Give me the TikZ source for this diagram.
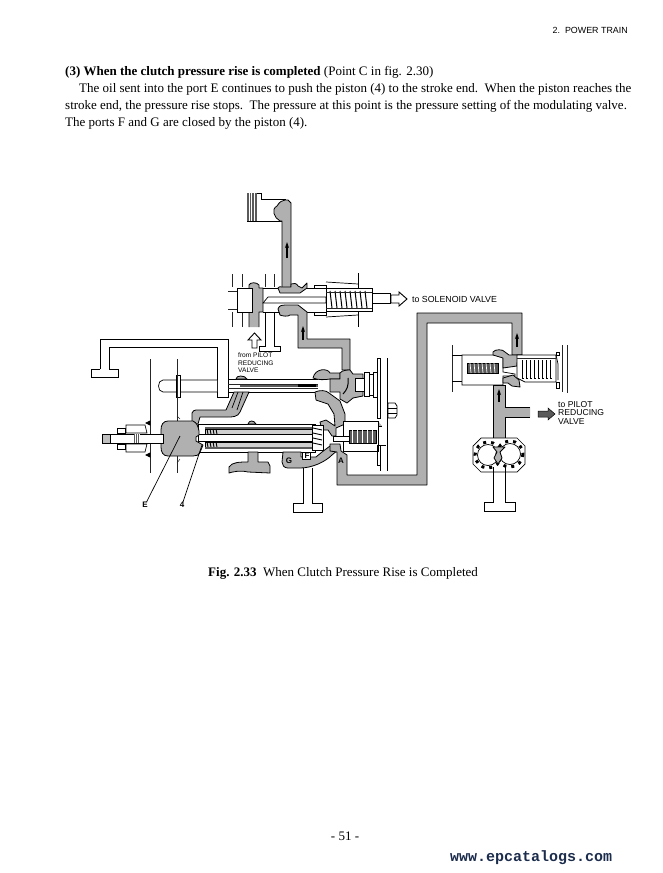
\documentclass[tikz,border=0pt]{standalone}
\usepackage{fontspec}
\setmainfont{Liberation Serif}
\setsansfont{Liberation Sans}
\setmonofont{Liberation Mono}
\usetikzlibrary{arrows.meta}
\definecolor{oilColor}{HTML}{B0B0B0}
\definecolor{darkOil}{HTML}{5A5A5A}
\definecolor{urlColor}{HTML}{1C2C4C}
\tikzset{
	oil/.style={draw=black, fill=oilColor, line width=0.8pt, line join=round},
	dark/.style={draw=black, fill=darkOil, line width=0.5pt},
	wall/.style={draw=black, line width=0.7pt},
	thin wall/.style={draw=black!85, line width=0.5pt},
	body text/.style={anchor=base west, inner sep=0, font=\fontsize{13}{15}\selectfont},
	small label/.style={anchor=base west, inner sep=0, font=\sffamily\fontsize{8.8}{9}\selectfont},
	mark label/.style={inner sep=0, font=\sffamily\bfseries\fontsize{8}{9}\selectfont},
	flow/.style={-{Stealth[length=6pt,width=4pt]}, line width=1.3pt},
	hollow arrow/.style={draw=black, fill=white, line width=0.9pt},
}
\begin{document}
\begin{tikzpicture}[x=1pt,y=-1pt]
	\useasboundingbox (0,0) rectangle (662,873);
	% page text
	\node[anchor=base east, inner sep=0, font=\sffamily\fontsize{8.9}{10}\selectfont] (header) at (628,33) {2.\ \ POWER TRAIN};
	\node[body text] (head) at (65,75) {\textbf{(3) When the clutch pressure rise is completed} (Point C in fig. 2.30)};
	\node[body text] (line1) at (79,92) {The oil sent into the port E continues to push the piston (4) to the stroke end.\ \ When the piston reaches the};
	\node[body text] (line2) at (65,109) {stroke end, the pressure rise stops.\ \ The pressure at this point is the pressure setting of the modulating valve.};
	\node[body text] (line3) at (65,126) {The ports F and G are closed by the piston (4).};
	\node[body text] (caption) at (208,576) {\textbf{Fig. 2.33}\ \ When Clutch Pressure Rise is Completed};
	\node[anchor=base, inner sep=0, font=\fontsize{13}{15}\selectfont] (page) at (345,840) {- 51 -};
	\node[anchor=base west, inner sep=0, text=urlColor, font=\ttfamily\bfseries\fontsize{15}{16}\selectfont] (url) at (450,861) {www.epcatalogs.com};

	% clutch and upper passage
	\draw[wall, fill=white] (247,193) -- (261,193) -- (261,199) -- (285,199) -- (285,221) -- (247,221) -- cycle;
	\fill[darkOil] (247,193) rectangle (257,221);
	\foreach \hx in {249,251.5,254}{\draw[white, line width=0.5pt] (\hx,193) -- (\hx,221);}
	\draw[oil] (282,287) -- (282,221) -- (280,221) .. controls (274,218) and (271,209) .. (277,206) .. controls (280,201) and (282,201) .. (285,200) -- (288,200) -- (291,203) -- (291,287);
	\draw[flow] (287,258) -- (287,242);

	% spool valve
	\foreach \lx in {232,242,265,274}{\draw[thin wall] (\lx,274) -- (\lx,287);}
	\draw[thin wall] (232,312) -- (232,327);
	\draw[thin wall] (242,312) -- (242,327);
	\draw[thin wall] (228,291) -- (237,291);
	\draw[thin wall] (228,309) -- (237,309);
	\draw[oil] (249,327) -- (249,285) .. controls (250,282) and (257,282) .. (259,285) -- (259,288) -- (263,288) -- (263,312) -- (259,312) -- (259,327);
	\draw[wall, fill=white] (237,288) rectangle (252,312);
	\draw[wall] (263,288) -- (326,288);
	\draw[wall] (263,312) -- (326,312);
	\draw[wall, fill=white] (263,303) -- (268,297) -- (326,297) -- (326,303) -- cycle;
	\draw[oil] (278,288) .. controls (278,286) and (281,287) .. (282,287) -- (291,287) -- (291,284) .. controls (293,283) and (297,283) .. (298,286) -- (302,288) -- (307,283) -- (307,288) -- (300,293) -- (280,293) -- cycle;
	\draw[oil] (278,309) .. controls (279,305) and (283,305) .. (285,305) -- (298,305) -- (307,312) -- (307,339) -- (350,339) -- (350,370) -- (342,370) -- (342,348) -- (298,348) -- (298,315) -- (290,315) .. controls (288,317) and (282,316) .. (280,315) -- cycle;
	\draw[flow] (303,340) -- (303,326);
	% spring chamber
	\draw[wall] (314,288) rectangle (326,285);
	\draw[wall] (314,312) rectangle (326,315);
	\draw[wall] (326,282) -- (358,284) (326,317) -- (358,315);
	\draw[wall] (358,273) -- (358,327);
	\draw[wall, fill=white] (326,288) rectangle (372,311);
	\foreach \cx in {330,335,...,367}{\draw[wall, line width=1pt] (\cx,291) -- (\cx+2,308);}
	\draw[thin wall] (326,292) -- (372,292) (326,308) -- (372,308);
	\draw[wall, fill=white] (372,293) rectangle (390,303);
	\draw[hollow arrow] (391,295) -- (399,295) -- (399,292) -- (407,299) -- (399,306) -- (399,303) -- (391,303) -- cycle;
	\node[small label] (solenoid) at (412,302) {to SOLENOID VALVE};
	% drain under spool and pilot inlet
	\draw[wall] (265,312) -- (265,346) -- (259,346) -- (259,351) -- (280,351) -- (280,346) -- (274,346) -- (274,312);
	\draw[hollow arrow] (252,348) -- (252,340) -- (248,340) -- (254.5,333) -- (261,340) -- (257,340) -- (257,348) -- cycle;
	\node[small label, align=left, anchor=north west, font=\sffamily\fontsize{6.6}{7.2}\selectfont] (pilotin) at (238,353) {from PILOT\\REDUCING\\VALVE};

	% drain tube at upper left
	\draw[wall] (100,369) -- (100,339) -- (228,339) -- (228,397) -- (217,397) -- (217,347) -- (109,347) -- (109,369);
	\draw[wall] (91,369) -- (100,369) (109,369) -- (118,369);
	\draw[wall] (91,369) -- (91,377) -- (118,377) -- (118,369);
	% pilot plunger
	\draw[wall, fill=white] (217,380) -- (163,380) .. controls (157,380) and (157,392) .. (163,392) -- (217,392);
	\draw[wall, fill=white] (176,375) rectangle (180,397);
	\draw[thin wall] (150,359) -- (150,473) (177,359) -- (177,473);
	\draw[wall] (228,379) -- (318,379) (228,392) -- (318,392);
	\draw[thin wall] (228,384) -- (318,384) (228,388) -- (318,388);
	\fill[darkOil] (240,385) rectangle (318,387);
	\fill[black] (298,384) rectangle (316,387);
	\draw[oil] (236,379) .. controls (236,375) and (245,375) .. (247,379) -- cycle;
	\draw[oil] (313,378) .. controls (315,368) and (328,368) .. (330,373) -- (340,373) -- (340,379) -- (330,379) .. controls (325,380) and (318,380) .. (313,378) -- cycle;

	% passage from chamber E
	\draw[oil] (192,424) -- (192,413) .. controls (193,411) and (194,410) .. (196,410) -- (226,410) -- (234,392) -- (249,392) -- (240,412) .. controls (238,417) and (232,417) .. (228,417) -- (200,417) -- (198,424) -- cycle;
	\draw[wall] (238,392) -- (232,408) (243,392) -- (237,410);

	% main piston body
	\draw[wall, fill=white] (198,424) -- (315,424) -- (315,452) -- (198,452) -- cycle;
	\draw[wall, fill=oilColor!60] (205,429) rectangle (315,434);
	\draw[wall, fill=oilColor!60] (205,442) rectangle (315,447);
	\fill[darkOil] (205,427) rectangle (315,429);
	\fill[darkOil] (205,447) rectangle (315,449);
	\draw[wall, line width=1.2pt] (198,434.5) -- (315,434.5) (198,441.5) -- (315,441.5);
	\foreach \tx in {207,210,...,216}{
		\draw[wall, line width=0.9pt] (\tx,429) -- (\tx+1,434);
		\draw[wall, line width=0.9pt] (\tx,442) -- (\tx+1,447);
	}
	\draw[white, dashed, line width=0.8pt] (220,426) -- (315,426) (220,450) -- (315,450);
	\draw[oil] (248,424) .. controls (249,420) and (254,420) .. (256,424) -- cycle;
	% chamber E and left rod
	\draw[thin wall] (177,416) -- (180,419) (177,463) -- (180,459);
	\draw[oil] (168,421) -- (193,421) .. controls (197,423) and (198,426) .. (199,431) -- (199,435) -- (196,437) -- (196,441) -- (203,445) -- (201,450) .. controls (199,456) and (196,456) .. (193,456) -- (168,456) .. controls (163,456) and (161,452) .. (161,447) -- (161,430) .. controls (161,425) and (163,421) .. (168,421) -- cycle;
	\draw[wall, fill=white] (110,434) rectangle (163,443);
	\draw[wall, fill=black!25] (102,434) rectangle (110,443);
	\draw[wall, fill=white] (117,428) rectangle (125,433) (117,444) rectangle (125,449);
	\draw[wall, fill=white] (126,425) -- (145,425) -- (147,433) -- (126,433) -- cycle;
	\draw[wall, fill=white] (126,444) -- (147,444) -- (145,452) -- (126,452) -- cycle;
	\fill[darkOil] (134,434) rectangle (140,443);
	\foreach \nx in {135,137,139}{\draw[white, line width=0.5pt] (\nx,434) -- (\nx,443);}
	\draw[wall, fill=black] (146,423) -- (150,421) -- (150,425) -- cycle;
	\draw[wall, fill=black] (146,455) -- (150,453) -- (150,457) -- cycle;
	% mushroom land under piston
	\draw[oil] (248,452) -- (258,452) -- (258,462) -- (268,462) -- (270,466) -- (270,473) -- (248,472) .. controls (240,470) and (232,472) .. (229,473) -- (229,467) .. controls (232,462) and (240,462) .. (248,462) -- cycle;

	% port G, F, A and the right end
	\draw[oil] (283,452) -- (301,452) -- (301,457) -- (316,457) -- (322,452) -- (330,446) -- (336,445) -- (338,450) -- (332,455) .. controls (325,462) and (312,468) .. (300,468) -- (288,468) .. controls (284,468) and (282,465) .. (282,462) -- cycle;
	\draw[wall, fill=white] (302,452) rectangle (310,459);
	\draw[wall] (303,468) -- (303,503) -- (293,503) -- (293,512) -- (322,512) -- (322,503) -- (312,503) -- (312,468);
	\node[mark label] (portG) at (289,461) {G};
	\node[mark label] (portF) at (307,455.5) {F};
	% pipe from A round to the relief valve
	\draw[oil] (330,451) -- (330,444) -- (340,444) -- (341,451) -- (347,455) -- (347,475) -- (417,475) -- (417,313) -- (522,313) -- (522,355) -- (512,355) -- (512,323) -- (427,323) -- (427,485) -- (337,485) -- (337,452) -- cycle;
	\node[mark label] (portA) at (341,461) {A};
	% small valve at the right of the piston
	\draw[oil] (315,392) .. controls (320,390) and (326,390) .. (329,393) -- (340,401) -- (345,414) -- (345,424) -- (336,428) -- (336,436) -- (332,436) -- (328,430) -- (322,430) -- (320,422) -- (326,420) -- (335,426) -- (334,414) -- (328,404) -- (316,400) -- cycle;
	\draw[wall, fill=white] (343,421) rectangle (378,451);
	\draw[dark] (349,430) rectangle (376,443);
	\foreach \px in {352,357,...,374}{\draw[white, line width=0.8pt] (\px,430) -- (\px,443);}
	\draw[wall, fill=white] (333,436) rectangle (349,441);
	\draw[oil] (378,421) -- (378,426) -- (382,426);
	\draw[wall, fill=white] (312,425) rectangle (323,450);
	\foreach \vy in {428,433,...,446}{\draw[wall, line width=0.9pt] (313,\vy) -- (322,\vy+2);}
	% chamber at the end of the plunger
	\draw[oil] (340,379) -- (340,373) .. controls (342,370) and (348,370) .. (350,370) -- (353,374) -- (363,374) -- (363,396) -- (353,398) -- (347,403) -- (340,399) -- (340,392) -- (330,392) -- (330,379) -- cycle;
	\draw[wall, fill=white] (355,378) rectangle (364,391);
	\draw[wall, line width=1pt] (348,378) .. controls (349,385) and (347,390) .. (343,394);
	\draw[wall] (364,372) rectangle (369,396);
	\draw[wall] (369,374) rectangle (373,395);
	\draw[wall] (373,372) rectangle (377,397);
	\draw[wall] (377,358) -- (380,358) -- (380,418) -- (377,418) -- cycle;
	\draw[wall] (380,445) -- (380,471) (377,445) -- (377,465) -- (380,465);
	\draw[wall] (377,445) -- (386,445);
	\draw[wall] (387,358) -- (387,471);
	\draw[wall, fill=white] (388,403) -- (395,403) -- (397,406) -- (397,415) -- (395,418) -- (388,418) -- cycle;
	\draw[wall] (388,408) -- (397,408) (388,413) -- (397,413);

	% relief valve
	\draw[thin wall] (452,345) -- (452,392);
	\draw[wall] (452,355) -- (462,355) (452,381) -- (462,381);
	\draw[wall, fill=white] (462,355) -- (503,355) -- (503,372) -- (515,374) -- (515,376) -- (503,376) -- (503,385) -- (462,385) -- cycle;
	\draw[dark] (467,363) rectangle (498,373);
	\foreach \px in {470,474,...,496}{\draw[white, line width=0.7pt] (\px,363) -- (\px+1,373);}
	\draw[oil] (493,355) -- (493,352) .. controls (495,349) and (503,349) .. (505,352) -- (509,355) -- (512,355) -- (522,355) -- (517,363) -- (517,366) -- (503,368) -- (503,358) -- cycle;
	\draw[oil] (503,378) -- (513,375) -- (519,380) -- (520,387) -- (512,386) -- (508,383) -- (503,383) -- cycle;
	\draw[flow] (517,347) -- (517,333);
	\draw[wall, fill=white] (517,355) -- (556,355) -- (556,382) -- (525,382) -- (517,378) -- cycle;
	\foreach \sx in {522,526,...,552}{\draw[wall, line width=0.9pt] (\sx,360) -- (\sx,378) (\sx,378) -- (\sx+2,378);}
	\draw[thin wall] (517,358) -- (556,358);
	\draw[wall] (556,352) rectangle (559,355) (556,382) rectangle (559,388);
	\draw[wall] (556,355) -- (558,364) -- (558,380);
	\draw[thin wall] (562,345) -- (562,392) (567,345) -- (567,393);
	% feed from pump and branch
	\fill[oilColor] (493,385) rectangle (505,447) (505,407) rectangle (530,417);
	\draw[wall, line width=0.8pt] (493,447) -- (493,385) -- (505,385) -- (505,407) -- (530,407) (530,417) -- (505,417) -- (505,447);
	\draw[flow] (499,402) -- (499,389);
	\draw[dark] (538,411) -- (548,411) -- (548,408) -- (555,414) -- (548,420) -- (548,417) -- (538,417) -- cycle;
	\node[small label, align=left, anchor=north west, font=\sffamily\fontsize{8.6}{8.6}\selectfont] (pilotout) at (558,401) {to PILOT\\REDUCING\\VALVE};
	% gear pump
	\draw[wall, fill=white] (481,438) -- (517,438) -- (525,446) -- (525,464) -- (517,472) -- (481,472) -- (473,464) -- (473,446) -- cycle;
	\foreach \gx/\gy in {488/455,510/454}{
		\draw[line width=3pt, dash pattern=on 3pt off 5pt] (\gx,\gy) circle (13);
		\draw[wall, fill=white] (\gx,\gy) circle (10.5);
	}
	\draw[oil] (493,447) -- (505,447) -- (500,452) -- (502,458) -- (498,464) -- (494,458) -- (497,452) -- cycle;
	\draw[wall] (493,467) -- (493,502) -- (484,502) -- (484,511) -- (515,511) -- (515,502) -- (505,502) -- (505,467);

	% leaders
	\coordinate (tipE) at (180,436);
	\coordinate (tip4) at (202,445);
	\node[mark label] (labelE) at (145,505) {E};
	\node[mark label] (label4) at (182,505) {4};
	\draw[wall] (labelE) -- (tipE);
	\draw[wall] (label4) -- (tip4);
\end{tikzpicture}
\end{document}
